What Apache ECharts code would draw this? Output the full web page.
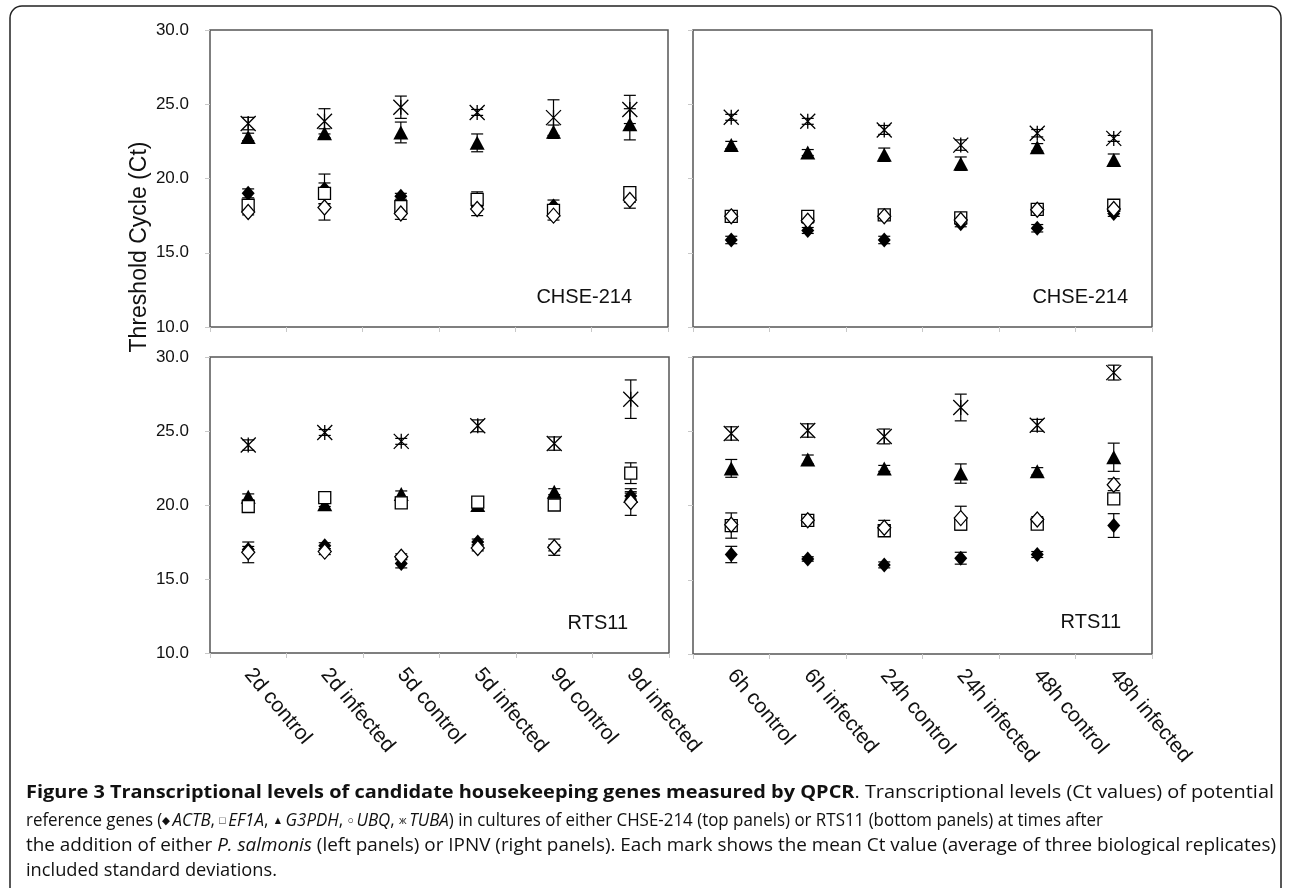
<!DOCTYPE html>
<html>
<head>
<meta charset="utf-8">
<script src="https://cdn.jsdelivr.net/npm/echarts@6/dist/echarts.min.js"></script>
<style>
    html, body { margin: 0; padding: 0; background: #fff; }
    #main { width: 1290px; height: 888px; }
</style>
</head>
<body>
<div id="main"></div>
<script>
    // categories
    var catsLeft = ['2d control', '2d infected', '5d control', '5d infected', '9d control', '9d infected'];
    var catsRight = ['6h control', '6h infected', '24h control', '24h infected', '48h control', '48h infected'];
    var yTicks = [10, 15, 20, 25, 30];

    // CHSE-214 + P. salmonis (top left)
    var tlActb = [19.0, 19.3, 18.8, 18.3, 18.15, 18.7];
    var tlActbSd = [0.3, 1.0, 0.2, 0.2, 0.4, 0.3];
    var tlEf1a = [18.2, 19.0, 18.1, 18.6, 17.85, 19.05];
    var tlEf1aSd = [0.3, 0.7, 0.3, 0.5, 0.3, 0.25];
    var tlG3pdh = [22.8, 23.05, 23.1, 22.4, 23.15, 23.65];
    var tlG3pdhSd = [0.25, 0.3, 0.7, 0.6, 0.45, 1.05];
    var tlUbq = [17.75, 18.05, 17.65, 17.95, 17.5, 18.55];
    var tlUbqSd = [0.2, 0.85, 0.4, 0.45, 0.3, 0.55];
    var tlTuba = [23.7, 23.85, 24.8, 24.45, 24.1, 24.65];
    var tlTubaSd = [0.42, 0.85, 0.75, 0.2, 1.2, 0.95];

    // CHSE-214 + IPNV (top right)
    var trActb = [15.86, 16.5, 15.86, 16.95, 16.65, 17.65];
    var trActbSd = [0.25, 0.2, 0.25, 0.2, 0.25, 0.2];
    var trEf1a = [17.45, 17.45, 17.55, 17.35, 17.92, 18.2];
    var trEf1aSd = [0.2, 0.2, 0.25, 0.2, 0.2, 0.2];
    var trG3pdh = [22.25, 21.75, 21.6, 21.0, 22.1, 21.25];
    var trG3pdhSd = [0.25, 0.2, 0.45, 0.45, 0.25, 0.4];
    var trUbq = [17.45, 17.15, 17.45, 17.2, 17.9, 17.95];
    var trUbqSd = [0.15, 0.15, 0.15, 0.2, 0.15, 0.15];
    var trTuba = [24.12, 23.85, 23.27, 22.25, 23.05, 22.7];
    var trTubaSd = [0.2, 0.2, 0.3, 0.35, 0.25, 0.2];

    // RTS11 + P. salmonis (bottom left)
    var blActb = [17.0, 17.25, 16.05, 17.5, 17.1, 20.6];
    var blActbSd = [0.2, 0.2, 0.3, 0.2, 0.2, 0.3];
    var blEf1a = [19.9, 20.5, 20.15, 20.2, 20.0, 22.15];
    var blEf1aSd = [0.2, 0.2, 0.2, 0.2, 0.2, 0.7];
    var blG3pdh = [20.55, 20.05, 20.75, 20.0, 20.9, 20.6];
    var blG3pdhSd = [0.2, 0.15, 0.2, 0.15, 0.2, 0.2];
    var blUbq = [16.8, 16.85, 16.5, 17.1, 17.15, 20.2];
    var blUbqSd = [0.7, 0.2, 0.2, 0.2, 0.55, 0.9];
    var blTuba = [24.05, 24.9, 24.3, 25.35, 24.15, 27.15];
    var blTubaSd = [0.35, 0.2, 0.2, 0.4, 0.45, 1.3];

    // RTS11 + IPNV (bottom right)
    var brActb = [16.7, 16.4, 16.0, 16.45, 16.7, 18.65];
    var brActbSd = [0.55, 0.15, 0.2, 0.4, 0.2, 0.8];
    var brEf1a = [18.65, 19.0, 18.3, 18.75, 18.75, 20.45];
    var brEf1aSd = [0.85, 0.2, 0.2, 0.3, 0.2, 0.3];
    var brG3pdh = [22.5, 23.1, 22.5, 22.15, 22.3, 23.25];
    var brG3pdhSd = [0.6, 0.3, 0.2, 0.65, 0.25, 0.95];
    var brUbq = [18.7, 19.0, 18.5, 19.15, 19.05, 21.4];
    var brUbqSd = [0.3, 0.2, 0.5, 0.8, 0.2, 0.4];
    var brTuba = [24.85, 25.05, 24.65, 26.6, 25.4, 28.95];
    var brTubaSd = [0.45, 0.45, 0.5, 0.9, 0.4, 0.5];

    // marker look per gene, in drawing order
    var asterisk = 'path://M0,0L20,20M20,0L0,20M10,0L10,20';
    var genes = [
        {name: 'ACTB', symbol: 'diamond', size: [13, 15], fill: '#000'},
        {name: 'G3PDH', symbol: 'triangle', size: [15, 14], fill: '#000'},
        {name: 'EF1A', symbol: 'rect', size: [12, 12], fill: '#fff'},
        {name: 'UBQ', symbol: 'diamond', size: [13, 15], fill: '#fff'},
        {name: 'TUBA', symbol: asterisk, size: [15, 15], fill: 'none'}
    ];

    var panels = [
        {ACTB: [tlActb, tlActbSd], G3PDH: [tlG3pdh, tlG3pdhSd], EF1A: [tlEf1a, tlEf1aSd], UBQ: [tlUbq, tlUbqSd], TUBA: [tlTuba, tlTubaSd]},
        {ACTB: [trActb, trActbSd], G3PDH: [trG3pdh, trG3pdhSd], EF1A: [trEf1a, trEf1aSd], UBQ: [trUbq, trUbqSd], TUBA: [trTuba, trTubaSd]},
        {ACTB: [blActb, blActbSd], G3PDH: [blG3pdh, blG3pdhSd], EF1A: [blEf1a, blEf1aSd], UBQ: [blUbq, blUbqSd], TUBA: [blTuba, blTubaSd]},
        {ACTB: [brActb, brActbSd], G3PDH: [brG3pdh, brG3pdhSd], EF1A: [brEf1a, brEf1aSd], UBQ: [brUbq, brUbqSd], TUBA: [brTuba, brTubaSd]}
    ];

    var grids = [
        {left: 210, top: 30, width: 458, height: 297},
        {left: 693, top: 30, width: 459, height: 297},
        {left: 210, top: 357, width: 459, height: 296},
        {left: 693, top: 357, width: 459, height: 297}
    ];
    grids.forEach(function (g) {
        g.show = true;
        g.borderColor = '#555';
        g.borderWidth = 1.5;
        g.backgroundColor = 'transparent';
    });

    var tickStyle = {show: true, length: 5, lineStyle: {color: '#c8c8c8', width: 1}};
    var arial = 'Liberation Sans, Arial, sans-serif';

    var xAxes = [0, 1, 2, 3].map(function (i) {
        return {
            type: 'category',
            gridIndex: i,
            data: (i % 2 === 0) ? catsLeft : catsRight,
            axisLine: {show: false},
            axisTick: tickStyle,
            axisLabel: {
                show: i >= 2,
                rotate: -50,
                margin: 18,
                padding: [22, 0, 0, 0],
                fontSize: 21,
                fontFamily: arial,
                color: '#111'
            }
        };
    });

    var yAxes = [0, 1, 2, 3].map(function (i) {
        return {
            type: 'value',
            gridIndex: i,
            min: yTicks[0],
            max: yTicks[yTicks.length - 1],
            interval: 5,
            splitLine: {show: false},
            axisLine: {show: false},
            axisTick: tickStyle,
            axisLabel: {
                show: i % 2 === 0,
                margin: 21,
                fontSize: 17,
                fontFamily: arial,
                color: '#111',
                formatter: function (v) { return v.toFixed(1); }
            }
        };
    });

    function errorBar(params, api) {
        var x = api.value(0);
        var top = api.coord([x, api.value(2)]);
        var bot = api.coord([x, api.value(1)]);
        var w = 6;
        var st = {stroke: '#000', lineWidth: 1.2};
        return {
            type: 'group',
            children: [
                {type: 'line', shape: {x1: top[0], y1: top[1], x2: bot[0], y2: bot[1]}, style: st},
                {type: 'line', shape: {x1: top[0] - w, y1: top[1], x2: top[0] + w, y2: top[1]}, style: st},
                {type: 'line', shape: {x1: bot[0] - w, y1: bot[1], x2: bot[0] + w, y2: bot[1]}, style: st}
            ]
        };
    }

    var series = [];
    panels.forEach(function (p, pi) {
        genes.forEach(function (g) {
            var mean = p[g.name][0], sd = p[g.name][1];
            series.push({
                type: 'custom',
                name: g.name,
                xAxisIndex: pi,
                yAxisIndex: pi,
                renderItem: errorBar,
                encode: {x: 0, y: [1, 2]},
                z: 1,
                silent: true,
                data: mean.map(function (m, k) { return [k, m - sd[k], m + sd[k]]; })
            });
        });
        genes.forEach(function (g, gi) {
            series.push({
                type: 'scatter',
                name: g.name,
                xAxisIndex: pi,
                yAxisIndex: pi,
                symbol: g.symbol,
                symbolSize: g.size,
                z: 2 + gi,
                itemStyle: {
                    color: g.fill,
                    borderColor: '#000',
                    borderWidth: g.fill === '#000' ? 0 : 1.3,
                    opacity: 1
                },
                emphasis: {disabled: true},
                data: p[g.name][0]
            });
        });
    });

    // caption lines: [text, kind]  b=bold, n=normal, i=italic, s=symbol
    var capFont = '"Open Sans", "Noto Sans", sans-serif';
    var capLines = [
        {y: 793, end: 1274, segs: [
            ['Figure 3 Transcriptional levels of candidate housekeeping genes measured by QPCR', 'b'],
            ['. Transcriptional levels (Ct values) of potential', 'n']]},
        {y: 821, end: 1103, segs: [
            ['reference genes (', 'n'], ['\u25C6 ', 's'], ['ACTB', 'i'], [', ', 'n'], ['\u25A1 ', 's'], ['EF1A', 'i'],
            [', ', 'n'], ['\u25B2 ', 's'], ['G3PDH', 'i'], [', ', 'n'], ['\u25CB ', 's'], ['UBQ', 'i'], [', ', 'n'],
            ['\u0436 ', 's'], ['TUBA', 'i'], [') in cultures of either CHSE-214 (top panels) or RTS11 (bottom panels) at times after', 'n']]},
        {y: 846, end: 1276, segs: [
            ['the addition of either ', 'n'], ['P. salmonis', 'i'],
            [' (left panels) or IPNV (right panels). Each mark shows the mean Ct value (average of three biological replicates)', 'n']]},
        {y: 871, end: 277, segs: [['included standard deviations.', 'n']]}
    ];
    var capStyles = {
        b: {fontWeight: 'bold', fontStyle: 'normal', fontSize: 18},
        n: {fontWeight: 'normal', fontStyle: 'normal', fontSize: 18},
        i: {fontWeight: 'normal', fontStyle: 'italic', fontSize: 18},
        s: {fontWeight: 'normal', fontStyle: 'normal', fontSize: 11}
    };
    var ctx = document.createElement('canvas').getContext('2d');
    function segWidth(seg) {
        var st = capStyles[seg[1]];
        ctx.font = st.fontStyle + ' ' + st.fontWeight + ' ' + st.fontSize + 'px ' + capFont;
        return ctx.measureText(seg[0]).width;
    }
    function lineWidth(line) {
        return line.segs.reduce(function (a, s) { return a + segWidth(s); }, 0);
    }
    var rich = {};
    Object.keys(capStyles).forEach(function (k) {
        var st = capStyles[k];
        rich[k] = {fontWeight: st.fontWeight, fontStyle: st.fontStyle, fontSize: st.fontSize,
                   fontFamily: capFont, color: '#111', verticalAlign: 'middle'};
    });
    var capStart = 26;

    var graphics = [
        {type: 'rect', z: -10, shape: {x: 10, y: 6, width: 1271, height: 930, r: 12},
         style: {fill: 'none', stroke: '#222', lineWidth: 1.5}},
        {type: 'text', x: 140, y: 247, rotation: Math.PI / 2,
         style: {text: 'Threshold Cycle (Ct)', x: 0, y: 0, align: 'center', verticalAlign: 'middle',
                 fontSize: 23, fontFamily: arial, fill: '#111'}},
        {type: 'text', x: 632, y: 297, style: {text: 'CHSE-214', align: 'right', verticalAlign: 'middle',
                 fontSize: 20, fontFamily: arial, fill: '#111'}},
        {type: 'text', x: 1128, y: 297, style: {text: 'CHSE-214', align: 'right', verticalAlign: 'middle',
                 fontSize: 20, fontFamily: arial, fill: '#111'}},
        {type: 'text', x: 628, y: 623, style: {text: 'RTS11', align: 'right', verticalAlign: 'middle',
                 fontSize: 20, fontFamily: arial, fill: '#111'}},
        {type: 'text', x: 1121, y: 622, style: {text: 'RTS11', align: 'right', verticalAlign: 'middle',
                 fontSize: 20, fontFamily: arial, fill: '#111'}}
    ];
    capLines.forEach(function (line) {
        var txt = line.segs.map(function (s) { return '{' + s[1] + '|' + s[0] + '}'; }).join('');
        graphics.push({
            type: 'text', x: capStart, y: line.y,
            scaleX: (line.end - capStart) / lineWidth(line),
            style: {text: txt, x: 0, y: 0, align: 'left', verticalAlign: 'middle', rich: rich,
                    fontSize: 18, fontFamily: capFont, fill: '#111'}
        });
    });

    var chart = echarts.init(document.getElementById('main'), null, {renderer: 'canvas'});
    chart.setOption({
        animation: false,
        backgroundColor: '#fff',
        grid: grids,
        xAxis: xAxes,
        yAxis: yAxes,
        series: series,
        graphic: graphics
    });
</script>
</body>
</html>
